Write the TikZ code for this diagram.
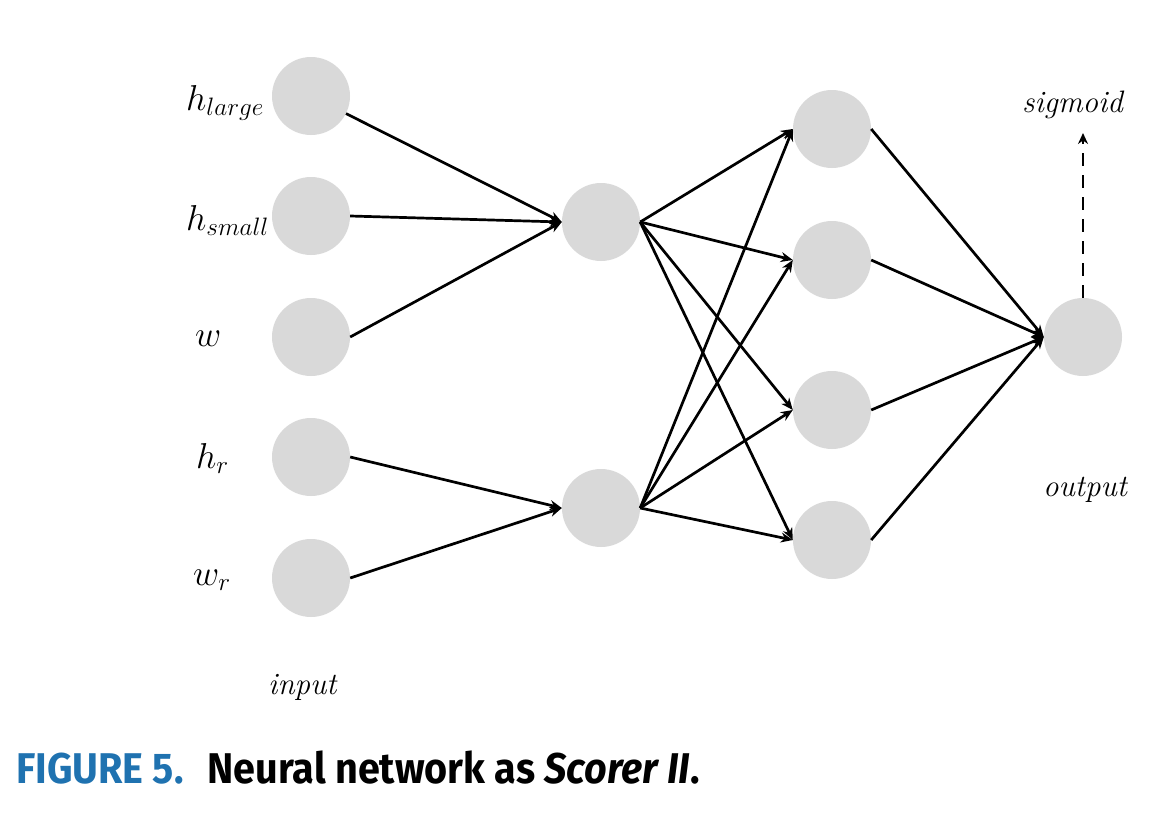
\documentclass[tikz,border=0pt]{standalone}
\usepackage{fix-cm}
\usepackage{fontspec}
\newfontfamily\capfont[FakeStretch=0.92]{Fira Sans}
\usetikzlibrary{arrows.meta}
\definecolor{nodegray}{RGB}{217,217,217}
\definecolor{capblue}{RGB}{31,114,176}
\tikzset{
  neuron/.style={circle,fill=nodegray,minimum size=78pt,inner sep=0pt},
  conn/.style={line width=2.7pt,-{Stealth[length=12pt,width=10pt]}},
  lbl/.style={font=\fontsize{36}{42}\selectfont,inner sep=0pt,anchor=base west},
  itlbl/.style={font=\fontsize{31}{36}\selectfont\itshape,inner sep=0pt,anchor=base west}
}
\begin{document}
\begin{tikzpicture}[x=1pt,y=-1pt]
\useasboundingbox (0,0) rectangle (1162,814);
% input layer
\node[neuron] (i1) at (311,96) {};
\node[neuron] (i2) at (311,216) {};
\node[neuron] (i3) at (311,337) {};
\node[neuron] (i4) at (311,457) {};
\node[neuron] (i5) at (311,578) {};
% hidden 1
\node[neuron] (a1) at (601,222) {};
\node[neuron] (a2) at (601,508) {};
% hidden 2
\node[neuron] (b1) at (832,129) {};
\node[neuron] (b2) at (832,260) {};
\node[neuron] (b3) at (832,410) {};
\node[neuron] (b4) at (832,540) {};
% output
\node[neuron] (o) at (1083,337) {};
% labels
\node[lbl] (l1) at (186,110) {$h_{large}$};
\node[lbl] (l2) at (186,230) {$h_{small}$};
\node[lbl] (l3) at (195,346) {$w$};
\node[lbl] (l4) at (196,468) {$h_r$};
\node[lbl] (l5) at (193,585) {$w_r$};
\node[itlbl] (tin) at (268,694) {input};
\node[itlbl] (tout) at (1043,496) {output};
\node[itlbl] (tsig) at (1022,112) {sigmoid};
\coordinate (sigend) at (1083,133);
% connections input -> hidden1
\draw[conn] (i1) -- (a1.west);
\draw[conn] (i2.east) -- (a1.west);
\draw[conn] (i3.east) -- (a1.west);
\draw[conn] (i4.east) -- (a2.west);
\draw[conn] (i5.east) -- (a2.west);
% hidden1 -> hidden2
\foreach \s in {a1,a2}{
  \foreach \t in {b1,b2,b3,b4}{
    \draw[conn] (\s.east) -- (\t.west);
  }
}
% hidden2 -> output
\foreach \s in {b1,b2,b3,b4}{
  \draw[conn] (\s.east) -- (o.west);
}
% dashed to sigmoid
\draw[line width=2.7pt,dash pattern=on 13pt off 9pt,-{Stealth[length=11pt,width=10pt]}] (o.north) -- (sigend);
% caption
\node[anchor=base west,inner sep=0pt,font=\capfont\bfseries\fontsize{43}{48}\selectfont] (cap) at (16,783)
  {\textcolor{capblue}{FIGURE 5.}\hspace{24pt}Neural network as \textit{Scorer II}.};
\end{tikzpicture}
\end{document}
